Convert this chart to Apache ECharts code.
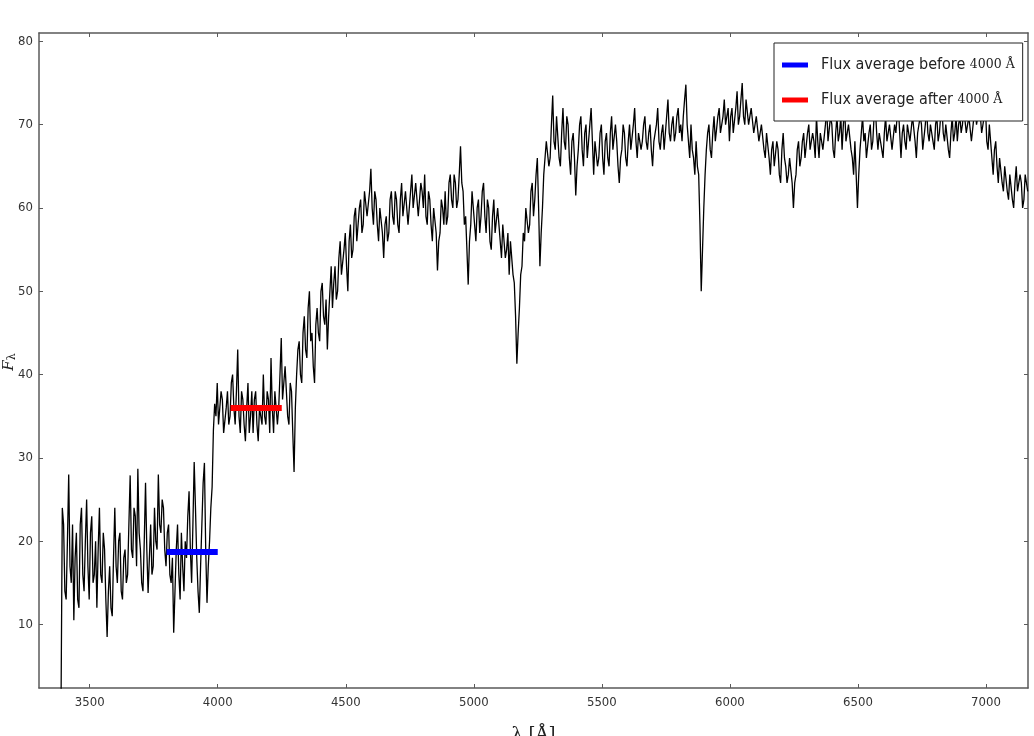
<!DOCTYPE html>
<html>
<head>
<meta charset="utf-8">
<script src="https://cdn.jsdelivr.net/npm/echarts@6/dist/echarts.min.js"></script>
<style>html,body{margin:0;padding:0;background:#fff}#c{width:1034px;height:736px}</style>
</head>
<body>
<div id="c"></div>
<script>
// Sampling grid of the spectrum (Å)
const WAVE_START = 3388;
const WAVE_STEP = 5;
// Flux, one value per 5 Å (rows of 100 Å)
const FLUX = [
  0, 24, 22, 14, 13, 20, 28, 17, 15, 22, 10.5, 18, 21, 13, 12, 22, 24, 16, 14, 20,
  25, 17, 13, 21, 23, 15, 16, 20, 12, 19, 24, 16, 15, 21, 19, 13, 8.5, 14, 17, 12,
  11, 18, 24, 17, 15, 20, 21, 14, 13, 18, 19, 15, 16, 22, 27.9, 19, 18, 24, 23, 17,
  28.7, 21, 19, 15, 14, 20, 27, 19, 13.8, 18, 22, 16, 17, 24, 20, 19, 28, 22, 21, 25,
  24, 19, 17, 21, 22, 16, 15, 18, 9, 14, 19, 22, 16, 13, 21, 17, 14, 20, 18, 23,
  26, 19, 15, 22, 29.5, 24, 18, 14, 11.4, 17, 22, 27, 29.4, 19, 12.6, 17, 20, 24, 26.5, 33.3,
  36.5, 35, 39, 34, 34, 38, 37, 33, 33, 36, 38, 34, 35, 39, 40, 36, 34, 38, 43, 35,
  33, 38, 37, 34, 32, 36, 39, 33, 35, 38, 33, 37, 38, 34, 32, 36, 36, 34, 40, 35,
  34, 38, 37, 33, 42, 36, 33, 38, 38, 34, 36, 40, 44.4, 37, 37, 41, 41, 35, 34, 39,
  38, 33, 28.3, 36, 40, 43, 44, 40, 39, 45, 47, 43, 42, 48, 50, 44, 45, 41, 39, 46,
  48, 45, 44, 50, 51, 47, 46, 49, 43, 47, 50, 53, 48, 51, 53, 49, 50, 54, 56, 52,
  52, 55, 57, 53, 50, 56, 58, 54, 55, 59, 60, 56, 56, 60, 61, 57, 58, 62, 62, 59,
  59, 62, 64.7, 60, 58, 62, 61, 58, 56, 60, 60, 57, 54, 58, 59, 56, 57, 61, 62, 59,
  58, 62, 61, 58, 57, 61, 63, 59, 59, 62, 62, 58, 58, 62, 64, 60, 60, 63, 63, 59,
  59, 63, 62, 60, 64, 59, 58, 62, 61, 58, 56, 60, 60, 57, 52.5, 56, 57, 61, 60, 58,
  62, 58, 59, 63, 64, 61, 60, 64, 63, 60, 61, 64, 67.4, 63, 62, 58, 59, 55, 50.8, 56,
  58, 62, 62, 58, 56, 60, 61, 57, 59, 62, 63, 59, 57, 61, 60, 56, 55, 59, 61, 57,
  57, 60, 60, 56, 54, 58, 58, 54, 55, 57, 52, 56, 56, 52, 51, 47, 41.3, 45, 48, 52,
  53, 57, 56, 60, 60, 57, 58, 62, 63, 59, 61, 64, 66, 60, 53, 57, 60, 64, 64, 68,
  68, 65, 66, 70, 73.5, 68, 67, 71, 71, 66, 65, 69, 72, 68, 67, 71, 70, 66, 64, 68,
  69, 66, 61.5, 65, 67, 70, 71, 67, 65, 69, 70, 66, 66, 70, 72, 68, 64, 68, 68, 65,
  66, 69, 70, 66, 64, 68, 69, 66, 65, 69, 71, 67, 67, 70, 68, 65, 63, 66, 67, 70,
  69, 66, 65, 68, 70, 67, 67, 70, 72, 68, 66, 69, 69, 67, 68, 70, 71, 68, 67, 69,
  70, 67, 65, 68, 68, 70, 72, 68, 67, 69, 70, 67, 69, 71, 73, 69, 68, 70, 71, 68,
  69, 71, 72, 69, 70, 68, 71, 73, 74.8, 70, 68, 66, 70, 67, 66, 64, 68, 65, 64, 58,
  50, 55, 60, 64, 67, 69, 70, 67, 66, 69, 71, 68, 68, 71, 72, 69, 69, 71, 73, 70,
  70, 72, 68, 71, 72, 69, 69, 72, 74, 70, 71, 73, 75, 71, 70, 73, 73, 70, 71, 72,
  72, 69, 69, 71, 71, 68, 68, 70, 70, 67, 66, 69, 69, 66, 64, 67, 68, 65, 65, 68,
  67, 64, 63, 67, 69, 66, 65, 63, 64, 66, 66, 63, 60, 63, 64, 67, 68, 65, 66, 68,
  69, 66, 66, 69, 70, 67, 67, 69, 68, 66, 71, 68, 66, 69, 69, 67, 67, 70, 72, 68,
  68, 71, 70, 67, 66, 69, 71, 68, 69, 71, 67, 70, 72, 68, 68, 70, 70, 67, 66, 64,
  68, 64, 60, 64, 67, 69, 71, 68, 69, 66, 66, 69, 70, 67, 68, 71, 72, 69, 67, 69,
  69, 67, 66, 69, 71, 68, 68, 70, 70, 67, 67, 70, 69, 71, 72, 69, 66, 69, 70, 68,
  67, 70, 70, 68, 68, 71, 71, 68, 66, 69, 69, 71, 70, 67, 67, 70, 72, 69, 68, 70,
  70, 68, 67, 70, 71, 68, 69, 71, 72, 69, 68, 70, 70, 67, 66, 69, 71, 68, 69, 71,
  68, 70, 71, 69, 70, 72, 72, 69, 69, 71, 71, 68, 68, 71, 72, 70, 70, 72, 71, 69,
  69, 71, 72, 68, 67, 70, 70, 66, 64, 67, 68, 65, 63, 66, 66, 63, 62, 65, 65, 62,
  61, 64, 64, 61, 60, 63, 65, 62, 62, 64, 63, 60, 61, 64, 64, 62
];
const X_TICKS = [3500, 4000, 4500, 5000, 5500, 6000, 6500, 7000];
const Y_TICKS = [10, 20, 30, 40, 50, 60, 70, 80];
const X_RANGE = [3302, 7164];
const Y_RANGE = [2.38, 81.0];
const BEFORE_RANGE = [3800, 4000];
const BEFORE_MEAN = 18.7;
const AFTER_RANGE = [4050, 4250];
const AFTER_MEAN = 36.0;
const LEGEND_NAMES = ['Flux average before 4000 Å', 'Flux average after 4000 Å'];

const spectrum = FLUX.map((f, i) => [WAVE_START + i * WAVE_STEP, f]);

const chart = echarts.init(document.getElementById('c'), null, {renderer: 'canvas'});
const AXC = '#5a5a5a';
const labelFont = {color: '#333', fontSize: 13, fontFamily: 'DejaVu Sans Condensed, DejaVu Sans, sans-serif'};
function xAx(pos, showLabel, extra) {
  return Object.assign({
    type: 'value', position: pos, min: X_RANGE[0], max: X_RANGE[1],
    axisLine: {show: true, onZero: false, lineStyle: {color: AXC, width: 1.5}},
    axisTick: {show: true, inside: true, length: 4, customValues: X_TICKS, lineStyle: {color: AXC}},
    axisLabel: Object.assign({show: showLabel, customValues: X_TICKS, margin: 8, formatter: v => String(v)}, labelFont),
    splitLine: {show: false}
  }, extra || {});
}
function yAx(pos, showLabel, extra) {
  return Object.assign({
    type: 'value', position: pos, min: Y_RANGE[0], max: Y_RANGE[1],
    axisLine: {show: true, onZero: false, lineStyle: {color: AXC, width: 1.5}},
    axisTick: {show: true, inside: true, length: 4, customValues: Y_TICKS, lineStyle: {color: AXC}},
    axisLabel: Object.assign({show: showLabel, customValues: Y_TICKS, margin: 6, formatter: v => String(v)}, labelFont),
    splitLine: {show: false}
  }, extra || {});
}

chart.setOption({
  animation: false,
  backgroundColor: '#fff',
  grid: {left: 39, right: 6, top: 33, bottom: 48, containLabel: false, outerBoundsMode: 'none'},
  xAxis: [
    xAx('bottom', true, {
      name: 'λ [Å]', nameLocation: 'middle', nameGap: 38, nameMoveOverlap: false,
      nameTextStyle: {fontFamily: 'DejaVu Serif, serif', fontSize: 18, color: '#222'}
    }),
    xAx('top', false)
  ],
  yAxis: [
    yAx('left', true),
    yAx('right', false)
  ],
  graphic: [{
    type: 'text',
    x: 9, y: 362,
    rotation: Math.PI / 2,
    style: {
      text: '{f|F}{l|λ}',
      align: 'center', verticalAlign: 'middle',
      rich: {
        f: {fontFamily: 'DejaVu Serif, serif', fontStyle: 'italic', fontSize: 15, fill: '#222'},
        l: {fontFamily: 'DejaVu Serif, serif', fontSize: 11, fill: '#222', padding: [7, 0, 0, 0]}
      }
    }
  }],
  legend: {
    data: LEGEND_NAMES,
    orient: 'vertical',
    left: 774, top: 43,
    padding: [14, 8, 13, 8],
    itemGap: 19,
    itemWidth: 26, itemHeight: 5,
    icon: 'rect',
    backgroundColor: '#fff',
    borderColor: '#222', borderWidth: 1,
    selectedMode: false,
    formatter: function (name) {
      const p = name.split('4000');
      return '{a|' + p[0] + '}{b|4000 Å}';
    },
    textStyle: {rich: {
      a: {fontFamily: 'DejaVu Sans Condensed, DejaVu Sans, sans-serif', fontSize: 16, color: '#222', padding: [0, 0, 0, 8]},
      b: {fontFamily: 'DejaVu Serif, serif', fontSize: 12.5, color: '#222'}
    }}
  },
  series: [
    {
      name: 'spectrum', type: 'line', data: spectrum, showSymbol: false, symbol: 'none',
      lineStyle: {color: '#000', width: 1.3}, clip: true, z: 2, silent: true, sampling: null
    },
    {
      name: LEGEND_NAMES[0], type: 'line', symbol: 'none', z: 3,
      data: [[BEFORE_RANGE[0], BEFORE_MEAN], [BEFORE_RANGE[1], BEFORE_MEAN]],
      itemStyle: {color: '#0000ff'}, lineStyle: {color: '#0000ff', width: 6}
    },
    {
      name: LEGEND_NAMES[1], type: 'line', symbol: 'none', z: 3,
      data: [[AFTER_RANGE[0], AFTER_MEAN], [AFTER_RANGE[1], AFTER_MEAN]],
      itemStyle: {color: '#ff0000'}, lineStyle: {color: '#ff0000', width: 6}
    }
  ]
});
</script>
</body>
</html>
